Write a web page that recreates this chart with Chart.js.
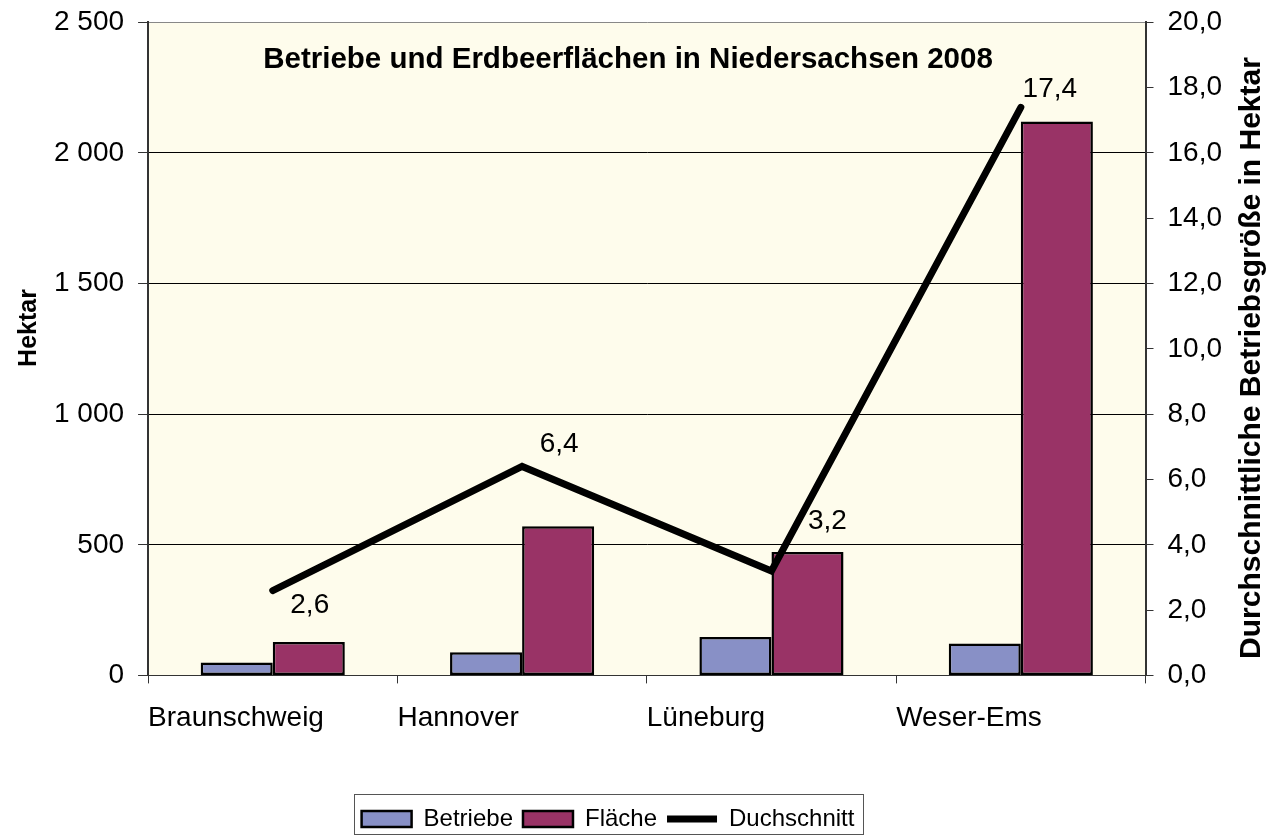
<!DOCTYPE html>
<html>
<head>
<meta charset="utf-8">
<script src="https://cdn.jsdelivr.net/npm/chart.js@4.4.1/dist/chart.umd.min.js"></script>
<style>
  body { margin: 0; background: #fff; }
  #wrap { width: 1278px; height: 835px; position: relative; }
</style>
</head>
<body>
<div id="wrap"><canvas id="chart"></canvas></div>
<script>
const categories = ['Braunschweig', 'Hannover', 'Lüneburg', 'Weser-Ems'];
const betriebe = [49, 89, 147, 122];
const flaeche = [128, 571, 472, 2121];
const durchschnitt = [2.6, 6.4, 3.2, 17.4];

const chartTitle = 'Betriebe und Erdbeerflächen in Niedersachsen 2008';
const leftTitle = 'Hektar';
const rightTitle = 'Durchschnittliche Betriebsgröße in Hektar';

// where the value labels of the line sit, relative to the point
const labelOffsets = [[37, 15], [37, -22], [56, -50], [29, -18]];

const FONT = '"Liberation Sans", Arial, sans-serif';
Chart.defaults.font.family = FONT;
Chart.defaults.color = '#000';

function fmtThousands(v) {
    if (v >= 1000) {
        return Math.floor(v / 1000) + ' ' + String(v % 1000).padStart(3, '0');
    }
    return String(v);
}

const extras = {
    id: 'extras',
    afterLayout(chart) {
        // legend sits a bit left of the middle in the original
        chart.legend.left -= 30;
        chart.legend.right -= 30;
    },
    beforeDraw(chart) {
        const a = chart.chartArea;
        const ctx = chart.ctx;
        ctx.save();
        ctx.fillStyle = '#FEFCEC';
        ctx.fillRect(a.left, a.top, a.right - a.left, a.bottom - a.top);
        ctx.restore();
    },
    afterDraw(chart) {
        const a = chart.chartArea;
        const ctx = chart.ctx;
        ctx.save();
        ctx.fillStyle = '#000';
        ctx.textAlign = 'center';
        ctx.textBaseline = 'middle';

        // title inside the plot
        ctx.font = 'bold 29.5px ' + FONT;
        ctx.fillText(chartTitle, 628, a.top + 37);

        // left axis title
        ctx.save();
        ctx.font = 'bold 25px ' + FONT;
        ctx.translate(29, 328);
        ctx.rotate(-Math.PI / 2);
        ctx.fillText(leftTitle, 0, 0);
        ctx.restore();

        // right axis title, reading bottom to top
        ctx.save();
        ctx.font = 'bold 30px ' + FONT;
        ctx.translate(1252, 358);
        ctx.rotate(-Math.PI / 2);
        ctx.fillText(rightTitle, 0, 0);
        ctx.restore();

        // value labels of the line
        const meta = chart.getDatasetMeta(2);
        ctx.font = '28px ' + FONT;
        meta.data.forEach((pt, i) => {
            const o = labelOffsets[i];
            ctx.fillText(durchschnitt[i].toFixed(1).replace('.', ','), pt.x + o[0], pt.y + o[1]);
        });

        // frame around the legend
        const boxes = chart.legend.legendHitBoxes;
        if (boxes && boxes.length) {
            let l = Infinity, r = -Infinity, t = Infinity, b = -Infinity;
            boxes.forEach(h => {
                l = Math.min(l, h.left);
                r = Math.max(r, h.left + h.width);
                t = Math.min(t, h.top);
                b = Math.max(b, h.top + h.height);
            });
            const mid = (t + b) / 2;
            ctx.strokeStyle = '#555';
            ctx.lineWidth = 1;
            ctx.strokeRect(Math.round(l - 8) + 0.5, Math.round(mid - 25) + 0.5, Math.round(r - l + 16), chart.height - Math.round(mid - 25) - 1);
        }
        ctx.restore();
    }
};

new Chart(document.getElementById('chart'), {
    data: {
        labels: categories,
        datasets: [
            {
                type: 'bar',
                label: 'Betriebe',
                data: betriebe,
                backgroundColor: '#8890C6',
                borderColor: '#000',
                borderWidth: 2.5,
                borderSkipped: false,
                yAxisID: 'y',
                order: 1
            },
            {
                type: 'bar',
                label: 'Fläche',
                data: flaeche,
                backgroundColor: '#993366',
                borderColor: '#000',
                borderWidth: 2.5,
                borderSkipped: false,
                yAxisID: 'y',
                order: 1
            },
            {
                type: 'line',
                label: 'Duchschnitt',
                data: durchschnitt,
                borderColor: '#000',
                backgroundColor: '#000',
                borderWidth: 7,
                borderCapStyle: 'round',
                borderJoinStyle: 'miter',
                pointRadius: 0,
                tension: 0,
                yAxisID: 'y1',
                order: 0
            }
        ]
    },
    options: {
        responsive: true,
        maintainAspectRatio: false,
        animation: false,
        categoryPercentage: 0.578,
        barPercentage: 1,
        layout: { padding: { top: 0, right: 42, left: 40, bottom: -6 } },
        plugins: {
            tooltip: { enabled: false },
            legend: {
                position: 'bottom',
                labels: {
                    font: { size: 24 },
                    usePointStyle: true,
                    pointStyleWidth: 50,
                    boxWidth: 50,
                    boxHeight: 16,
                    padding: 10,
                    sort: (p, q) => p.datasetIndex - q.datasetIndex,
                    generateLabels(chart) {
                        const items = Chart.defaults.plugins.legend.labels.generateLabels(chart);
                        items.forEach(it => {
                            it.pointStyle = it.datasetIndex === 2 ? 'line' : 'rect';
                        });
                        return items;
                    }
                }
            }
        },
        scales: {
            x: {
                type: 'category',
                display: false
            },
            xl: {
                type: 'linear',
                position: 'bottom',
                min: 0,
                max: 4,
                afterFit(scale) { scale.height += 44; },
                ticks: {
                    stepSize: 1,
                    align: 'start',
                    padding: 18,
                    font: { size: 28 },
                    callback: v => categories[v] || ''
                },
                grid: { drawOnChartArea: false, color: '#333', tickLength: 8 },
                border: { color: '#333' }
            },
            y: {
                position: 'left',
                min: 0,
                max: 2500,
                ticks: {
                    stepSize: 500,
                    padding: 14,
                    font: { size: 28, lineHeight: 0.6 },
                    callback: v => fmtThousands(v)
                },
                grid: {
                    color: ctx => ctx.tick && ctx.tick.value === 2500 ? '#888' : '#000',
                    tickColor: '#333',
                    tickLength: 10
                },
                border: { color: '#333', width: 2 }
            },
            y1: {
                position: 'right',
                min: 0,
                max: 20,
                ticks: {
                    stepSize: 2,
                    padding: 14,
                    font: { size: 28, lineHeight: 0.6 },
                    callback: v => v.toFixed(1).replace('.', ',')
                },
                grid: { drawOnChartArea: false, color: '#333', tickLength: 8 },
                border: { color: '#333', width: 2 }
            }
        }
    },
    plugins: [extras]
});
</script>
</body>
</html>
